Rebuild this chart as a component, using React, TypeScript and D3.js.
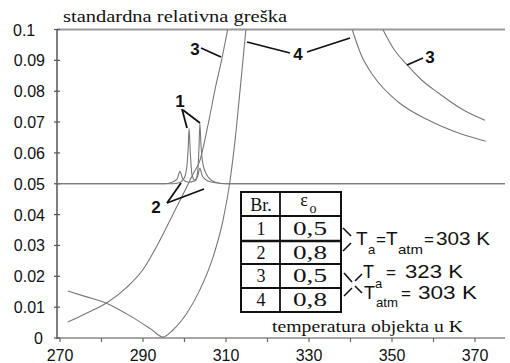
import React from "react";
import * as d3 from "d3";

// Relative error curves: [temperature K, standard relative error]
const curve1: [number, number][] = [
  [269.3, 0.05], [297, 0.05], [299, 0.0505], [300, 0.052], [300.6, 0.056], [300.9, 0.062],
  [301.1, 0.068], [301.4, 0.06], [301.8, 0.053], [302.6, 0.051], [303.2, 0.054], [303.5, 0.062],
  [303.7, 0.0695], [304.0, 0.062], [304.5, 0.056], [305.8, 0.052], [307.5, 0.0505], [310, 0.05], [377.2, 0.05],
];
const curve2: [number, number][] = [
  [269.3, 0.05], [295, 0.05], [297, 0.0505], [298.2, 0.0515], [298.9, 0.054], [299.6, 0.0515],
  [301, 0.0505], [302.4, 0.051], [303.2, 0.0525], [303.7, 0.055], [304.3, 0.0525], [305.5, 0.051],
  [307.5, 0.0503], [310, 0.05], [377.2, 0.05],
];
const curve3Left: [number, number][] = [
  [271.9, 0.0052], [276, 0.0078], [281.3, 0.0114], [286, 0.0163], [290, 0.0222], [293.4, 0.03],
  [297, 0.0395], [300, 0.0475], [302, 0.053], [303.7, 0.0575], [305.5, 0.068], [307.5, 0.0815],
  [309, 0.0905], [310.4, 0.1],
];
const curve3Right: [number, number][] = [
  [347.8, 0.1], [350.5, 0.0935], [353.6, 0.0886], [357, 0.0838], [361.1, 0.0795], [367.1, 0.074], [372.4, 0.0706],
];
const curve4Left: [number, number][] = [
  [271.9, 0.0152], [276, 0.0135], [281.3, 0.0112], [287.6, 0.0066], [292, 0.0028], [294.8, 0.0003],
  [297.2, 0.0026], [300.6, 0.0081], [303.7, 0.0156], [306.9, 0.0263], [309.3, 0.0383], [311, 0.0513],
  [312.2, 0.0643], [313.4, 0.0805], [314.8, 0.1],
];
const curve4Right: [number, number][] = [
  [340.4, 0.1], [342.5, 0.092], [345.5, 0.085], [351.5, 0.0765], [358.5, 0.0708], [366.5, 0.0662], [372.6, 0.0638],
];

const yTickValues = [0, 0.01, 0.02, 0.03, 0.04, 0.05, 0.06, 0.07, 0.08, 0.09, 0.1];
const yTickLabels = ["0", "0.01", "0.02", "0.03", "0.04", "0.05", "0.06", "0.07", "0.08", "0.09", "0.1"];
const xTickValues = [270, 280, 290, 300, 310, 320, 330, 340, 350, 360, 370];
const xLabelValues = [270, 290, 310, 330, 350, 370];

const tableRows = ["1", "2", "3", "4"];
const tableEps = ["0,5", "0,8", "0,5", "0,8"];

const SERIF = "'Liberation Serif', 'DejaVu Serif', serif";
const SANS = "'Liberation Sans', Arial, sans-serif";

export default function App() {
  const x = d3.scaleLinear().domain([270, 370]).range([60, 475]);
  const y = d3.scaleLinear().domain([0, 0.1]).range([338, 29.5]);
  const line = d3
    .line<[number, number]>()
    .x((d) => x(d[0]))
    .y((d) => y(d[1]))
    .curve(d3.curveMonotoneX);

  const plotLeft = 57;
  const plotRight = 505;
  const curves = [curve1, curve2, curve3Left, curve3Right, curve4Left, curve4Right];

  // table geometry
  const tL = 241, tM = 280, tR = 341;
  const rowLines = [192, 216, 241, 264, 288, 312];
  const rowBase = [235, 259, 282, 306];

  return (
    <svg
      width={510}
      height={363}
      style={{ position: "absolute", left: 0, top: 0, background: "#fff" }}
    >
      <defs>
        <clipPath id="plot">
          <rect x={plotLeft} y={y(0.1)} width={plotRight - plotLeft} height={y(0) - y(0.1)} />
        </clipPath>
      </defs>

      {/* title */}
      <text x={63} y={22} fontFamily={SERIF} fontSize={16} textLength={224} lengthAdjust="spacingAndGlyphs" fill="#111">
        standardna relativna greška
      </text>

      {/* frame lines */}
      <line x1={plotLeft} x2={plotRight} y1={y(0.1)} y2={y(0.1)} stroke="#999" strokeWidth={2} />
      <line x1={plotLeft} x2={plotRight} y1={y(0)} y2={y(0)} stroke="#888" strokeWidth={1.6} />
      <line x1={plotLeft} x2={plotLeft} y1={y(0.1)} y2={y(0) + 1} stroke="#555" strokeWidth={1.5} />

      {/* y ticks */}
      {yTickValues.map((v, i) => (
        <g key={"y" + i}>
          <line x1={plotLeft - 3} x2={plotLeft + 3} y1={y(v)} y2={y(v)} stroke="#555" strokeWidth={1.2} />
          <text
            x={yTickLabels[i] === "0.1" ? 13 : yTickLabels[i] === "0" ? 43 : 45}
            y={y(v) + 6}
            textAnchor={yTickLabels[i] === "0.1" ? "start" : "end"}
            fontFamily={SANS}
            fontSize={16}
            fill="#111"
          >
            {yTickLabels[i]}
          </text>
        </g>
      ))}

      {/* x ticks */}
      {xTickValues.map((v) => (
        <line key={"x" + v} x1={x(v)} x2={x(v)} y1={y(0)} y2={y(0) + 4} stroke="#666" strokeWidth={1.2} />
      ))}
      {xLabelValues.map((v) => (
        <text key={"xl" + v} x={x(v)} y={361} textAnchor="middle" fontFamily={SANS} fontSize={16} fill="#111">
          {v}
        </text>
      ))}

      {/* curves */}
      <g clipPath="url(#plot)" fill="none" stroke="#777" strokeWidth={1.1}>
        {curves.map((c, i) => (
          <path key={"c" + i} d={line(c) || ""} />
        ))}
      </g>

      {/* curve labels and leaders */}
      <g stroke="#111" strokeWidth={1.8} fill="none">
        <line x1={201} y1={48} x2={221} y2={57} />
        <line x1={247} y1={42} x2={290} y2={53} />
        <line x1={307} y1={52} x2={350} y2={38} />
        <line x1={407} y1={65} x2={423} y2={58} />
        <line x1={182} y1={109} x2={187} y2={128} />
        <line x1={183} y1={110} x2={200} y2={123} />
        <line x1={167} y1={203} x2={181} y2={183} />
        <line x1={167} y1={203} x2={204} y2={189} />
      </g>
      <g fontFamily={SANS} fontSize={17} fill="#111" fontWeight="bold">
        <text x={195} y={55} textAnchor="middle">3</text>
        <text x={298} y={60} textAnchor="middle">4</text>
        <text x={430} y={63} textAnchor="middle">3</text>
        <text x={180} y={107} textAnchor="middle">1</text>
        <text x={156} y={213} textAnchor="middle">2</text>
      </g>

      {/* legend table */}
      <rect x={tL} y={rowLines[0]} width={tR - tL} height={rowLines[5] - rowLines[0]} fill="#fff" stroke="#111" strokeWidth={2} />
      {rowLines.slice(1, 5).map((ry, i) => (
        <line key={"r" + i} x1={tL} x2={tR} y1={ry} y2={ry} stroke="#111" strokeWidth={i === 1 ? 2.4 : 1.8} />
      ))}
      <line x1={tM} x2={tM} y1={rowLines[0]} y2={rowLines[5]} stroke="#111" strokeWidth={1.8} />
      <g fontFamily={SERIF} fontSize={18} fill="#111" textAnchor="middle">
        <text x={261} y={211}>Br.</text>
        <text x={304} y={206}>ε</text>
        <text x={313} y={213} fontSize={14}>o</text>
        {tableRows.map((r, i) => (
          <text key={"tr" + i} x={261} y={rowBase[i]}>{r}</text>
        ))}
        {tableEps.map((e, i) => (
          <text key={"te" + i} x={310} y={rowBase[i]} textLength={34} lengthAdjust="spacingAndGlyphs">{e}</text>
        ))}
      </g>

      {/* condition brackets */}
      <g stroke="#111" strokeWidth={1.6} fill="none">
        <polyline points="343,228 351,236" />
        <polyline points="343,251 351,243" />
        <polyline points="344,273 352,282" />
        <polyline points="355,281 362,274" />
        <polyline points="344,296 352,288" />
        <polyline points="355,286 362,293" />
      </g>
      <g fontFamily={SANS} fill="#111">
        <text x={356} y={245} fontSize={19}>T</text>
        <text x={368} y={254} fontSize={13}>a</text>
        <text x={376} y={245} fontSize={17}>=</text>
        <text x={386} y={245} fontSize={19}>T</text>
        <text x={398} y={254} fontSize={13} textLength={25} lengthAdjust="spacingAndGlyphs">atm</text>
        <text x={424} y={245} fontSize={17}>=</text>
        <text x={436} y={245} fontSize={19} textLength={54} lengthAdjust="spacingAndGlyphs">303 K</text>

        <text x={363} y={278} fontSize={18}>T</text>
        <text x={375} y={288} fontSize={13}>a</text>
        <text x={386} y={278} fontSize={17}>=</text>
        <text x={405} y={278} fontSize={18} textLength={58} lengthAdjust="spacingAndGlyphs">323 K</text>

        <text x={364} y={299} fontSize={18}>T</text>
        <text x={376} y={307} fontSize={13} textLength={22} lengthAdjust="spacingAndGlyphs">atm</text>
        <text x={401} y={299} fontSize={17}>=</text>
        <text x={418} y={299} fontSize={18} textLength={59} lengthAdjust="spacingAndGlyphs">303 K</text>
      </g>

      {/* axis title */}
      <text x={272} y={332} fontFamily={SERIF} fontSize={16} textLength={191} lengthAdjust="spacingAndGlyphs" fill="#111">
        temperatura objekta  u  K
      </text>
    </svg>
  );
}
